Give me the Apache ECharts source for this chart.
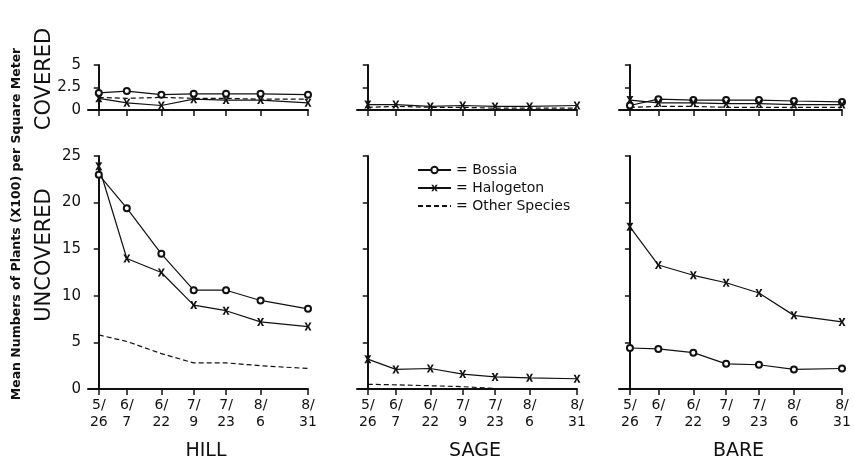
<!DOCTYPE html>
<html>
<head>
<meta charset="utf-8">
<script src="https://cdn.jsdelivr.net/npm/echarts@6/dist/echarts.min.js"></script>
<style>
  html, body { margin: 0; padding: 0; background: #fff; }
  #main { width: 854px; height: 462px; }
</style>
</head>
<body>
<div id="main"></div>
<script>
// sampling dates, and where they sit along the axis (days after 5/26, as plotted)
var sampleLabels = ['5/\n26', '6/\n7', '6/\n22', '7/\n9', '7/\n23', '8/\n6', '8/\n31'];
var sampleDay = [0, 13, 29, 44, 59, 75, 97];
var siteNames = ['HILL', 'SAGE', 'BARE'];

// covered plots (0-5)
var hillCoveredBossia = [1.9, 2.1, 1.7, 1.8, 1.8, 1.8, 1.7];
var hillCoveredHalogeton = [1.3, 0.8, 0.5, 1.2, 1.1, 1.1, 0.8];
var hillCoveredOther = [1.4, 1.3, 1.4, 1.3, 1.3, 1.2, 1.2];
var sageCoveredHalogeton = [0.6, 0.6, 0.4, 0.5, 0.4, 0.4, 0.5];
var sageCoveredOther = [0.3, 0.4, 0.3, 0.3, 0.2, 0.2, 0.2];
var bareCoveredBossia = [0.5, 1.2, 1.1, 1.1, 1.1, 1.0, 0.9];
var bareCoveredHalogeton = [1.1, 0.8, 0.8, 0.7, 0.7, 0.6, 0.6];
var bareCoveredOther = [0.3, 0.4, 0.4, 0.3, 0.3, 0.3, 0.3];

// uncovered plots (0-25)
var hillUncoveredBossia = [23.0, 19.4, 14.5, 10.6, 10.6, 9.5, 8.6];
var hillUncoveredHalogeton = [23.9, 14.0, 12.5, 9.0, 8.4, 7.2, 6.7];
var hillUncoveredOther = [5.8, 5.1, 3.8, 2.8, 2.8, 2.5, 2.2];
var sageUncoveredHalogeton = [3.2, 2.1, 2.2, 1.6, 1.3, 1.2, 1.1];
var sageUncoveredOther = [0.5, 0.45, 0.35, 0.25, 0.05, null, null];
var bareUncoveredBossia = [4.4, 4.3, 3.9, 2.7, 2.6, 2.1, 2.2];
var bareUncoveredHalogeton = [17.4, 13.3, 12.2, 11.4, 10.3, 7.9, 7.2];

var ink = '#111';
var font = 'DejaVu Sans';
var xMark = 'path://M0,0 L3,0 L5,3.6 L7,0 L10,0 L6.6,5 L10,10 L7,10 L5,6.4 L3,10 L0,10 L3.4,5 Z';

var columns = [
    {left: 88, width: 220},
    {left: 357, width: 220},
    {left: 619, width: 223}
];

var grids = [], xAxes = [], yAxes = [];
columns.forEach(function (c, i) {
    // top (covered) then bottom (uncovered)
    grids.push({left: c.left, width: c.width, top: 65, height: 45});
    grids.push({left: c.left, width: c.width, top: 156, height: 233});
    [0, 1].forEach(function (row) {
        var g = i * 2 + row;
        xAxes.push({
            type: 'value', gridIndex: g, min: -5, max: 97,
            splitLine: {show: false},
            axisLine: {show: true, lineStyle: {color: ink, width: 2}},
            axisTick: {show: true, customValues: sampleDay, length: 6, lineStyle: {color: ink, width: 1.5}},
            axisLabel: {
                show: row === 1, customValues: sampleDay,
                color: ink, fontFamily: font, fontSize: 14, lineHeight: 17, margin: 8,
                formatter: function (v) {
                    var k = sampleDay.indexOf(v);
                    return k < 0 ? '' : sampleLabels[k];
                }
            }
        });
        yAxes.push({
            type: 'value', gridIndex: g, min: 0,
            max: row === 0 ? 5 : 25, interval: row === 0 ? 2.5 : 5,
            splitLine: {show: false},
            axisLine: {show: true, lineStyle: {color: ink, width: 2}},
            axisTick: {show: true, length: 5, lineStyle: {color: ink, width: 1.5}},
            axisLabel: {show: i === 0, color: ink, fontFamily: font, fontSize: 15, margin: 7}
        });
    });
});

function bossia(g, data) {
    return {
        name: 'Bossia', type: 'line', xAxisIndex: g, yAxisIndex: g,
        data: data.map(function (v, k) { return [sampleDay[k], v]; }),
        symbol: 'emptyCircle', symbolSize: 6,
        itemStyle: {color: ink, borderWidth: 1.2},
        lineStyle: {color: ink, width: 1.2}
    };
}
function halogeton(g, data) {
    return {
        name: 'Halogeton', type: 'line', xAxisIndex: g, yAxisIndex: g,
        data: data.map(function (v, k) { return [sampleDay[k], v]; }),
        symbol: xMark, symbolSize: [7, 8],
        itemStyle: {color: ink, borderWidth: 0},
        lineStyle: {color: ink, width: 1.2}
    };
}
function other(g, data) {
    return {
        name: 'Other Species', type: 'line', xAxisIndex: g, yAxisIndex: g,
        data: data.map(function (v, k) { return [sampleDay[k], v]; }),
        symbol: 'none', connectNulls: false,
        itemStyle: {color: ink},
        lineStyle: {color: ink, width: 1.2, type: [5, 3]}
    };
}

var series = [
    bossia(0, hillCoveredBossia), halogeton(0, hillCoveredHalogeton), other(0, hillCoveredOther),
    bossia(1, hillUncoveredBossia), halogeton(1, hillUncoveredHalogeton), other(1, hillUncoveredOther),
    halogeton(2, sageCoveredHalogeton), other(2, sageCoveredOther),
    halogeton(3, sageUncoveredHalogeton), other(3, sageUncoveredOther),
    bossia(4, bareCoveredBossia), halogeton(4, bareCoveredHalogeton), other(4, bareCoveredOther),
    bossia(5, bareUncoveredBossia), halogeton(5, bareUncoveredHalogeton)
];

var titles = siteNames.map(function (s, i) {
    return {
        text: s, left: columns[i].left + columns[i].width / 2 + 3, top: 437, textAlign: 'center',
        textStyle: {color: ink, fontFamily: font, fontSize: 19, fontWeight: 'normal'}
    };
});

var myChart = echarts.init(document.getElementById('main'));
var option = {
    backgroundColor: '#fff',
    animation: false,
    title: titles,
    legend: {
        data: ['Bossia', 'Halogeton', {name: 'Other Species', itemStyle: {opacity: 0}}],
        orient: 'vertical', left: 412, top: 158,
        itemWidth: 33, itemHeight: 8, itemGap: 4,
        formatter: '= {name}',
        textStyle: {color: ink, fontFamily: font, fontSize: 14}
    },
    graphic: [
        {type: 'text', x: 17, y: 224, rotation: Math.PI / 2,
         style: {text: 'Mean Numbers of Plants (X100) per Square Meter', fill: ink,
                 font: 'bold 12.5px "DejaVu Sans"', textAlign: 'center', textVerticalAlign: 'middle'}},
        {type: 'text', x: 45, y: 79, rotation: Math.PI / 2,
         style: {text: 'COVERED', fill: ink, font: '21px "DejaVu Sans"',
                 textAlign: 'center', textVerticalAlign: 'middle'}},
        {type: 'text', x: 45, y: 255, rotation: Math.PI / 2,
         style: {text: 'UNCOVERED', fill: ink, font: '21px "DejaVu Sans"',
                 textAlign: 'center', textVerticalAlign: 'middle'}}
    ],
    grid: grids,
    xAxis: xAxes,
    yAxis: yAxes,
    series: series
};
myChart.setOption(option);
</script>
</body>
</html>
